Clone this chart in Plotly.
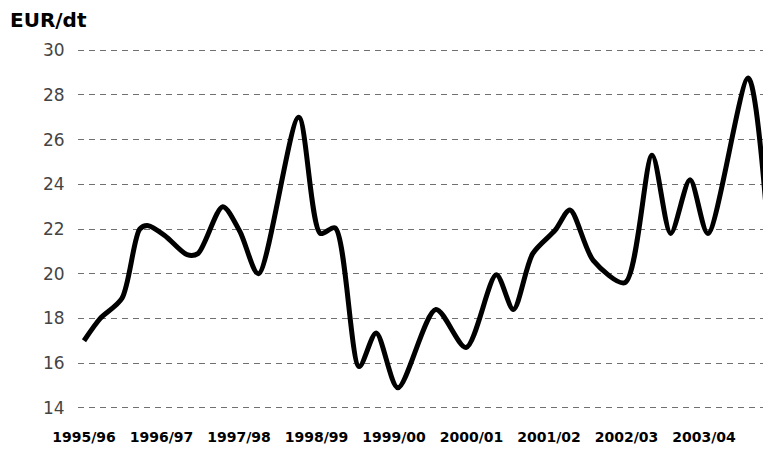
import plotly.graph_objects as go

seasons = ["1995/96", "1996/97", "1997/98", "1998/99", "1999/00",
           "2000/01", "2001/02", "2002/03", "2003/04"]
season_pos = list(range(len(seasons)))

# time in season units (0 = start of 1995/96), price in EUR/dt
t = [0.00, 0.21, 0.49, 0.72, 0.83, 1.045, 1.33, 1.47, 1.79, 2.01, 2.25,
     2.77, 3.05, 3.24, 3.55, 3.77, 4.05, 4.54, 4.93, 5.32, 5.54, 5.79,
     6.08, 6.27, 6.57, 6.98, 7.33, 7.57, 7.82, 8.05, 8.57, 8.80]
price = [17.0, 18.0, 18.9, 22.0, 22.15, 21.7, 20.85, 20.9, 23.0, 21.9, 20.0,
         27.0, 21.8, 22.05, 15.85, 17.35, 14.9, 18.4, 16.7, 19.95, 18.4, 20.9,
         21.95, 22.85, 20.6, 19.6, 25.3, 21.8, 24.2, 21.8, 28.75, 23.0]

y_ticks = [14, 16, 18, 20, 22, 24, 26, 28, 30]

W, H = 763, 450
plot_left = 78
unit_px = 77.5          # pixels per season on the x axis
label0_px = 84          # pixel of the first season label
x_max = (W - label0_px) / unit_px
x_min_main = (plot_left - label0_px) / unit_px
x_min_full = -label0_px / unit_px
y_range = [13.5, 30.5]

fig = go.Figure()
fig.add_trace(go.Scatter(
    x=t, y=price, mode="lines",
    line=dict(color="black", width=5, shape="spline", smoothing=0.8),
    hoverinfo="skip", showlegend=False,
))
# carrier trace for the full-width label axis
fig.add_trace(go.Scatter(
    x=season_pos, y=[20] * len(seasons), xaxis="x2", yaxis="y2", mode="markers",
    marker=dict(size=1, opacity=0), hoverinfo="skip", showlegend=False,
))

fig.update_layout(
    width=W, height=H,
    margin=dict(l=0, r=0, t=39, b=31, autoexpand=False),
    paper_bgcolor="white", plot_bgcolor="rgba(0,0,0,0)",
    xaxis=dict(
        domain=[plot_left / W, 1], range=[x_min_main, x_max], anchor="y",
        showticklabels=False, showgrid=False, zeroline=False, showline=False,
        ticks="",
    ),
    yaxis=dict(
        range=y_range, anchor="x",
        tickmode="array", tickvals=y_ticks,
        showgrid=True, gridcolor="#707070", griddash="6px,5px", gridwidth=1,
        zeroline=False, showline=False,
        ticks="outside", ticklen=9, tickcolor="rgba(0,0,0,0)",
        tickfont=dict(family="DejaVu Sans", size=17, color="#444"),
    ),
    xaxis2=dict(
        domain=[0, 1], range=[x_min_full, x_max], anchor="y2",
        tickmode="array", tickvals=season_pos, ticktext=seasons,
        showgrid=False, zeroline=False, showline=False,
        ticks="outside", ticklen=5, tickcolor="rgba(0,0,0,0)",
        tickfont=dict(family="DejaVu Sans", size=14, color="black", weight="bold"),
    ),
    yaxis2=dict(
        range=y_range, anchor="x2",
        showticklabels=False, showgrid=False, zeroline=False, showline=False,
        ticks="",
    ),
    annotations=[dict(
        text="<b>EUR/dt</b>", xref="paper", yref="paper",
        x=8 / W, y=1 + 19 / 380, xanchor="left", yanchor="middle",
        showarrow=False,
        font=dict(family="DejaVu Sans", size=20, color="black"),
    )],
)

fig.write_html("out.html", config={"displayModeBar": False},
               post_script="document.body.style.margin='0';")
